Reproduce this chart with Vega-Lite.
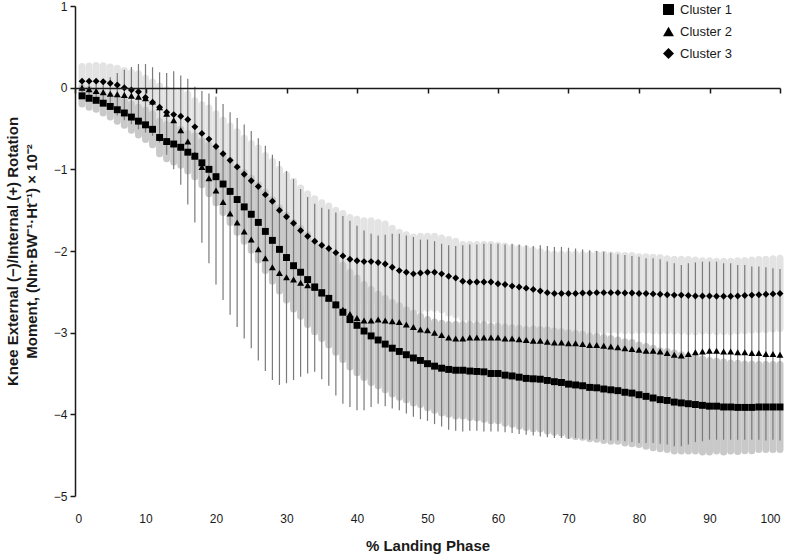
{
"$schema":"https://vega.github.io/schema/vega-lite/v6.json",
"autosize":{"type":"none"},
"width":705,"height":490,
"padding":{"left":75,"top":6,"right":10,"bottom":60},
"background":"white",
"config":{"view":{"stroke":null},"font":"Liberation Sans","axis":{"grid":false}},
"datasets":{"d":[
{"x":1,"c":"Cluster 1","m":-0.10,"s":0.10},{"x":2,"c":"Cluster 1","m":-0.13,"s":0.11},{"x":3,"c":"Cluster 1","m":-0.155,"s":0.11},{"x":4,"c":"Cluster 1","m":-0.19,"s":0.12},{"x":5,"c":"Cluster 1","m":-0.23,"s":0.13},{"x":6,"c":"Cluster 1","m":-0.27,"s":0.14},{"x":7,"c":"Cluster 1","m":-0.31,"s":0.15},{"x":8,"c":"Cluster 1","m":-0.36,"s":0.16},{"x":9,"c":"Cluster 1","m":-0.41,"s":0.17},{"x":10,"c":"Cluster 1","m":-0.455,"s":0.18},
{"x":11,"c":"Cluster 1","m":-0.51,"s":0.19},{"x":12,"c":"Cluster 1","m":-0.61,"s":0.20},{"x":13,"c":"Cluster 1","m":-0.66,"s":0.21},{"x":14,"c":"Cluster 1","m":-0.69,"s":0.22},{"x":15,"c":"Cluster 1","m":-0.73,"s":0.22},{"x":16,"c":"Cluster 1","m":-0.79,"s":0.23},{"x":17,"c":"Cluster 1","m":-0.84,"s":0.25},{"x":18,"c":"Cluster 1","m":-0.92,"s":0.27},{"x":19,"c":"Cluster 1","m":-1.00,"s":0.30},{"x":20,"c":"Cluster 1","m":-1.09,"s":0.32},
{"x":21,"c":"Cluster 1","m":-1.18,"s":0.35},{"x":22,"c":"Cluster 1","m":-1.27,"s":0.38},{"x":23,"c":"Cluster 1","m":-1.37,"s":0.40},{"x":24,"c":"Cluster 1","m":-1.46,"s":0.42},{"x":25,"c":"Cluster 1","m":-1.55,"s":0.44},{"x":26,"c":"Cluster 1","m":-1.65,"s":0.46},{"x":27,"c":"Cluster 1","m":-1.76,"s":0.48},{"x":28,"c":"Cluster 1","m":-1.87,"s":0.50},{"x":29,"c":"Cluster 1","m":-1.98,"s":0.51},{"x":30,"c":"Cluster 1","m":-2.08,"s":0.52},
{"x":31,"c":"Cluster 1","m":-2.18,"s":0.53},{"x":32,"c":"Cluster 1","m":-2.26,"s":0.54},{"x":33,"c":"Cluster 1","m":-2.35,"s":0.55},{"x":34,"c":"Cluster 1","m":-2.44,"s":0.55},{"x":35,"c":"Cluster 1","m":-2.51,"s":0.56},{"x":36,"c":"Cluster 1","m":-2.58,"s":0.57},{"x":37,"c":"Cluster 1","m":-2.66,"s":0.58},{"x":38,"c":"Cluster 1","m":-2.75,"s":0.58},{"x":39,"c":"Cluster 1","m":-2.84,"s":0.58},{"x":40,"c":"Cluster 1","m":-2.91,"s":0.58},
{"x":41,"c":"Cluster 1","m":-2.98,"s":0.57},{"x":42,"c":"Cluster 1","m":-3.04,"s":0.57},{"x":43,"c":"Cluster 1","m":-3.09,"s":0.56},{"x":44,"c":"Cluster 1","m":-3.14,"s":0.56},{"x":45,"c":"Cluster 1","m":-3.19,"s":0.56},{"x":46,"c":"Cluster 1","m":-3.23,"s":0.56},{"x":47,"c":"Cluster 1","m":-3.27,"s":0.55},{"x":48,"c":"Cluster 1","m":-3.31,"s":0.55},{"x":49,"c":"Cluster 1","m":-3.34,"s":0.54},{"x":50,"c":"Cluster 1","m":-3.38,"s":0.54},
{"x":51,"c":"Cluster 1","m":-3.41,"s":0.54},{"x":52,"c":"Cluster 1","m":-3.435,"s":0.55},{"x":53,"c":"Cluster 1","m":-3.45,"s":0.55},{"x":54,"c":"Cluster 1","m":-3.46,"s":0.56},{"x":55,"c":"Cluster 1","m":-3.46,"s":0.56},{"x":56,"c":"Cluster 1","m":-3.47,"s":0.57},{"x":57,"c":"Cluster 1","m":-3.475,"s":0.57},{"x":58,"c":"Cluster 1","m":-3.48,"s":0.58},{"x":59,"c":"Cluster 1","m":-3.50,"s":0.58},{"x":60,"c":"Cluster 1","m":-3.50,"s":0.58},
{"x":61,"c":"Cluster 1","m":-3.52,"s":0.59},{"x":62,"c":"Cluster 1","m":-3.53,"s":0.59},{"x":63,"c":"Cluster 1","m":-3.545,"s":0.60},{"x":64,"c":"Cluster 1","m":-3.56,"s":0.60},{"x":65,"c":"Cluster 1","m":-3.565,"s":0.61},{"x":66,"c":"Cluster 1","m":-3.57,"s":0.61},{"x":67,"c":"Cluster 1","m":-3.585,"s":0.62},{"x":68,"c":"Cluster 1","m":-3.60,"s":0.62},{"x":69,"c":"Cluster 1","m":-3.61,"s":0.62},{"x":70,"c":"Cluster 1","m":-3.63,"s":0.63},
{"x":71,"c":"Cluster 1","m":-3.64,"s":0.63},{"x":72,"c":"Cluster 1","m":-3.65,"s":0.63},{"x":73,"c":"Cluster 1","m":-3.67,"s":0.63},{"x":74,"c":"Cluster 1","m":-3.675,"s":0.63},{"x":75,"c":"Cluster 1","m":-3.69,"s":0.63},{"x":76,"c":"Cluster 1","m":-3.70,"s":0.63},{"x":77,"c":"Cluster 1","m":-3.71,"s":0.62},{"x":78,"c":"Cluster 1","m":-3.73,"s":0.62},{"x":79,"c":"Cluster 1","m":-3.74,"s":0.62},{"x":80,"c":"Cluster 1","m":-3.76,"s":0.61},
{"x":81,"c":"Cluster 1","m":-3.78,"s":0.61},{"x":82,"c":"Cluster 1","m":-3.80,"s":0.61},{"x":83,"c":"Cluster 1","m":-3.82,"s":0.60},{"x":84,"c":"Cluster 1","m":-3.83,"s":0.60},{"x":85,"c":"Cluster 1","m":-3.85,"s":0.60},{"x":86,"c":"Cluster 1","m":-3.86,"s":0.59},{"x":87,"c":"Cluster 1","m":-3.87,"s":0.58},{"x":88,"c":"Cluster 1","m":-3.88,"s":0.57},{"x":89,"c":"Cluster 1","m":-3.89,"s":0.57},{"x":90,"c":"Cluster 1","m":-3.90,"s":0.56},
{"x":91,"c":"Cluster 1","m":-3.90,"s":0.55},{"x":92,"c":"Cluster 1","m":-3.91,"s":0.55},{"x":93,"c":"Cluster 1","m":-3.91,"s":0.54},{"x":94,"c":"Cluster 1","m":-3.915,"s":0.54},{"x":95,"c":"Cluster 1","m":-3.915,"s":0.53},{"x":96,"c":"Cluster 1","m":-3.915,"s":0.53},{"x":97,"c":"Cluster 1","m":-3.91,"s":0.52},{"x":98,"c":"Cluster 1","m":-3.91,"s":0.52},{"x":99,"c":"Cluster 1","m":-3.91,"s":0.52},{"x":100,"c":"Cluster 1","m":-3.91,"s":0.52},
{"x":1,"c":"Cluster 2","m":0.0,"s":0.06},{"x":2,"c":"Cluster 2","m":-0.02,"s":0.07},{"x":3,"c":"Cluster 2","m":-0.04,"s":0.09},{"x":4,"c":"Cluster 2","m":-0.057,"s":0.13},{"x":5,"c":"Cluster 2","m":-0.073,"s":0.20},{"x":6,"c":"Cluster 2","m":-0.08,"s":0.26},{"x":7,"c":"Cluster 2","m":-0.09,"s":0.31},{"x":8,"c":"Cluster 2","m":-0.098,"s":0.35},{"x":9,"c":"Cluster 2","m":-0.11,"s":0.40},{"x":10,"c":"Cluster 2","m":-0.13,"s":0.42},
{"x":11,"c":"Cluster 2","m":-0.17,"s":0.42},{"x":12,"c":"Cluster 2","m":-0.24,"s":0.43},{"x":13,"c":"Cluster 2","m":-0.32,"s":0.50},{"x":14,"c":"Cluster 2","m":-0.40,"s":0.60},{"x":15,"c":"Cluster 2","m":-0.52,"s":0.67},{"x":16,"c":"Cluster 2","m":-0.66,"s":0.77},{"x":17,"c":"Cluster 2","m":-0.82,"s":0.83},{"x":18,"c":"Cluster 2","m":-0.97,"s":0.93},{"x":19,"c":"Cluster 2","m":-1.11,"s":1.04},{"x":20,"c":"Cluster 2","m":-1.26,"s":1.15},
{"x":21,"c":"Cluster 2","m":-1.40,"s":1.20},{"x":22,"c":"Cluster 2","m":-1.54,"s":1.24},{"x":23,"c":"Cluster 2","m":-1.65,"s":1.28},{"x":24,"c":"Cluster 2","m":-1.76,"s":1.31},{"x":25,"c":"Cluster 2","m":-1.86,"s":1.33},{"x":26,"c":"Cluster 2","m":-1.98,"s":1.36},{"x":27,"c":"Cluster 2","m":-2.09,"s":1.38},{"x":28,"c":"Cluster 2","m":-2.20,"s":1.38},{"x":29,"c":"Cluster 2","m":-2.27,"s":1.37},{"x":30,"c":"Cluster 2","m":-2.32,"s":1.30},
{"x":31,"c":"Cluster 2","m":-2.35,"s":1.23},{"x":32,"c":"Cluster 2","m":-2.39,"s":1.15},{"x":33,"c":"Cluster 2","m":-2.42,"s":1.08},{"x":34,"c":"Cluster 2","m":-2.45,"s":1.03},{"x":35,"c":"Cluster 2","m":-2.52,"s":1.05},{"x":36,"c":"Cluster 2","m":-2.57,"s":1.08},{"x":37,"c":"Cluster 2","m":-2.65,"s":1.12},{"x":38,"c":"Cluster 2","m":-2.72,"s":1.15},{"x":39,"c":"Cluster 2","m":-2.77,"s":1.14},{"x":40,"c":"Cluster 2","m":-2.82,"s":1.13},
{"x":41,"c":"Cluster 2","m":-2.85,"s":1.10},{"x":42,"c":"Cluster 2","m":-2.85,"s":1.06},{"x":43,"c":"Cluster 2","m":-2.84,"s":1.03},{"x":44,"c":"Cluster 2","m":-2.85,"s":1.05},{"x":45,"c":"Cluster 2","m":-2.86,"s":1.07},{"x":46,"c":"Cluster 2","m":-2.87,"s":1.08},{"x":47,"c":"Cluster 2","m":-2.90,"s":1.09},{"x":48,"c":"Cluster 2","m":-2.93,"s":1.10},{"x":49,"c":"Cluster 2","m":-2.96,"s":1.10},{"x":50,"c":"Cluster 2","m":-2.97,"s":1.11},
{"x":51,"c":"Cluster 2","m":-3.00,"s":1.12},{"x":52,"c":"Cluster 2","m":-3.03,"s":1.12},{"x":53,"c":"Cluster 2","m":-3.06,"s":1.13},{"x":54,"c":"Cluster 2","m":-3.07,"s":1.13},{"x":55,"c":"Cluster 2","m":-3.07,"s":1.14},{"x":56,"c":"Cluster 2","m":-3.06,"s":1.14},{"x":57,"c":"Cluster 2","m":-3.06,"s":1.14},{"x":58,"c":"Cluster 2","m":-3.06,"s":1.15},{"x":59,"c":"Cluster 2","m":-3.06,"s":1.15},{"x":60,"c":"Cluster 2","m":-3.06,"s":1.15},
{"x":61,"c":"Cluster 2","m":-3.07,"s":1.15},{"x":62,"c":"Cluster 2","m":-3.07,"s":1.16},{"x":63,"c":"Cluster 2","m":-3.08,"s":1.16},{"x":64,"c":"Cluster 2","m":-3.09,"s":1.16},{"x":65,"c":"Cluster 2","m":-3.10,"s":1.16},{"x":66,"c":"Cluster 2","m":-3.10,"s":1.17},{"x":67,"c":"Cluster 2","m":-3.11,"s":1.17},{"x":68,"c":"Cluster 2","m":-3.12,"s":1.17},{"x":69,"c":"Cluster 2","m":-3.12,"s":1.17},{"x":70,"c":"Cluster 2","m":-3.13,"s":1.17},
{"x":71,"c":"Cluster 2","m":-3.13,"s":1.16},{"x":72,"c":"Cluster 2","m":-3.14,"s":1.16},{"x":73,"c":"Cluster 2","m":-3.15,"s":1.16},{"x":74,"c":"Cluster 2","m":-3.15,"s":1.15},{"x":75,"c":"Cluster 2","m":-3.16,"s":1.15},{"x":76,"c":"Cluster 2","m":-3.17,"s":1.15},{"x":77,"c":"Cluster 2","m":-3.18,"s":1.14},{"x":78,"c":"Cluster 2","m":-3.19,"s":1.14},{"x":79,"c":"Cluster 2","m":-3.20,"s":1.14},{"x":80,"c":"Cluster 2","m":-3.21,"s":1.14},
{"x":81,"c":"Cluster 2","m":-3.22,"s":1.13},{"x":82,"c":"Cluster 2","m":-3.22,"s":1.13},{"x":83,"c":"Cluster 2","m":-3.23,"s":1.13},{"x":84,"c":"Cluster 2","m":-3.25,"s":1.12},{"x":85,"c":"Cluster 2","m":-3.27,"s":1.12},{"x":86,"c":"Cluster 2","m":-3.28,"s":1.11},{"x":87,"c":"Cluster 2","m":-3.26,"s":1.11},{"x":88,"c":"Cluster 2","m":-3.24,"s":1.10},{"x":89,"c":"Cluster 2","m":-3.23,"s":1.10},{"x":90,"c":"Cluster 2","m":-3.22,"s":1.09},
{"x":91,"c":"Cluster 2","m":-3.22,"s":1.09},{"x":92,"c":"Cluster 2","m":-3.23,"s":1.08},{"x":93,"c":"Cluster 2","m":-3.23,"s":1.08},{"x":94,"c":"Cluster 2","m":-3.24,"s":1.07},{"x":95,"c":"Cluster 2","m":-3.24,"s":1.07},{"x":96,"c":"Cluster 2","m":-3.25,"s":1.06},{"x":97,"c":"Cluster 2","m":-3.25,"s":1.06},{"x":98,"c":"Cluster 2","m":-3.26,"s":1.06},{"x":99,"c":"Cluster 2","m":-3.26,"s":1.05},{"x":100,"c":"Cluster 2","m":-3.27,"s":1.05},
{"x":1,"c":"Cluster 3","m":0.08,"s":0.18},{"x":2,"c":"Cluster 3","m":0.08,"s":0.185},{"x":3,"c":"Cluster 3","m":0.08,"s":0.19},{"x":4,"c":"Cluster 3","m":0.073,"s":0.195},{"x":5,"c":"Cluster 3","m":0.053,"s":0.20},{"x":6,"c":"Cluster 3","m":0.033,"s":0.205},{"x":7,"c":"Cluster 3","m":0.0,"s":0.21},{"x":8,"c":"Cluster 3","m":-0.028,"s":0.215},{"x":9,"c":"Cluster 3","m":-0.049,"s":0.22},{"x":10,"c":"Cluster 3","m":-0.12,"s":0.235},
{"x":11,"c":"Cluster 3","m":-0.18,"s":0.25},{"x":12,"c":"Cluster 3","m":-0.24,"s":0.26},{"x":13,"c":"Cluster 3","m":-0.30,"s":0.275},{"x":14,"c":"Cluster 3","m":-0.33,"s":0.29},{"x":15,"c":"Cluster 3","m":-0.35,"s":0.30},{"x":16,"c":"Cluster 3","m":-0.39,"s":0.31},{"x":17,"c":"Cluster 3","m":-0.48,"s":0.32},{"x":18,"c":"Cluster 3","m":-0.56,"s":0.35},{"x":19,"c":"Cluster 3","m":-0.63,"s":0.38},{"x":20,"c":"Cluster 3","m":-0.72,"s":0.40},
{"x":21,"c":"Cluster 3","m":-0.81,"s":0.41},{"x":22,"c":"Cluster 3","m":-0.89,"s":0.42},{"x":23,"c":"Cluster 3","m":-0.97,"s":0.43},{"x":24,"c":"Cluster 3","m":-1.06,"s":0.44},{"x":25,"c":"Cluster 3","m":-1.14,"s":0.455},{"x":26,"c":"Cluster 3","m":-1.21,"s":0.47},{"x":27,"c":"Cluster 3","m":-1.31,"s":0.48},{"x":28,"c":"Cluster 3","m":-1.39,"s":0.49},{"x":29,"c":"Cluster 3","m":-1.50,"s":0.50},{"x":30,"c":"Cluster 3","m":-1.58,"s":0.51},
{"x":31,"c":"Cluster 3","m":-1.66,"s":0.515},{"x":32,"c":"Cluster 3","m":-1.75,"s":0.52},{"x":33,"c":"Cluster 3","m":-1.82,"s":0.52},{"x":34,"c":"Cluster 3","m":-1.88,"s":0.52},{"x":35,"c":"Cluster 3","m":-1.93,"s":0.52},{"x":36,"c":"Cluster 3","m":-1.97,"s":0.52},{"x":37,"c":"Cluster 3","m":-2.02,"s":0.52},{"x":38,"c":"Cluster 3","m":-2.06,"s":0.52},{"x":39,"c":"Cluster 3","m":-2.10,"s":0.51},{"x":40,"c":"Cluster 3","m":-2.12,"s":0.51},
{"x":41,"c":"Cluster 3","m":-2.13,"s":0.50},{"x":42,"c":"Cluster 3","m":-2.13,"s":0.50},{"x":43,"c":"Cluster 3","m":-2.14,"s":0.49},{"x":44,"c":"Cluster 3","m":-2.16,"s":0.49},{"x":45,"c":"Cluster 3","m":-2.20,"s":0.48},{"x":46,"c":"Cluster 3","m":-2.24,"s":0.47},{"x":47,"c":"Cluster 3","m":-2.26,"s":0.46},{"x":48,"c":"Cluster 3","m":-2.28,"s":0.45},{"x":49,"c":"Cluster 3","m":-2.27,"s":0.45},{"x":50,"c":"Cluster 3","m":-2.26,"s":0.44},
{"x":51,"c":"Cluster 3","m":-2.26,"s":0.44},{"x":52,"c":"Cluster 3","m":-2.28,"s":0.44},{"x":53,"c":"Cluster 3","m":-2.31,"s":0.45},{"x":54,"c":"Cluster 3","m":-2.33,"s":0.45},{"x":55,"c":"Cluster 3","m":-2.37,"s":0.45},{"x":56,"c":"Cluster 3","m":-2.38,"s":0.46},{"x":57,"c":"Cluster 3","m":-2.38,"s":0.46},{"x":58,"c":"Cluster 3","m":-2.38,"s":0.46},{"x":59,"c":"Cluster 3","m":-2.38,"s":0.46},{"x":60,"c":"Cluster 3","m":-2.40,"s":0.47},
{"x":61,"c":"Cluster 3","m":-2.41,"s":0.47},{"x":62,"c":"Cluster 3","m":-2.43,"s":0.47},{"x":63,"c":"Cluster 3","m":-2.44,"s":0.47},{"x":64,"c":"Cluster 3","m":-2.455,"s":0.48},{"x":65,"c":"Cluster 3","m":-2.47,"s":0.48},{"x":66,"c":"Cluster 3","m":-2.49,"s":0.48},{"x":67,"c":"Cluster 3","m":-2.51,"s":0.48},{"x":68,"c":"Cluster 3","m":-2.52,"s":0.48},{"x":69,"c":"Cluster 3","m":-2.52,"s":0.48},{"x":70,"c":"Cluster 3","m":-2.52,"s":0.48},
{"x":71,"c":"Cluster 3","m":-2.52,"s":0.48},{"x":72,"c":"Cluster 3","m":-2.515,"s":0.47},{"x":73,"c":"Cluster 3","m":-2.515,"s":0.47},{"x":74,"c":"Cluster 3","m":-2.51,"s":0.47},{"x":75,"c":"Cluster 3","m":-2.51,"s":0.47},{"x":76,"c":"Cluster 3","m":-2.51,"s":0.46},{"x":77,"c":"Cluster 3","m":-2.51,"s":0.46},{"x":78,"c":"Cluster 3","m":-2.515,"s":0.46},{"x":79,"c":"Cluster 3","m":-2.515,"s":0.46},{"x":80,"c":"Cluster 3","m":-2.52,"s":0.45},
{"x":81,"c":"Cluster 3","m":-2.52,"s":0.45},{"x":82,"c":"Cluster 3","m":-2.525,"s":0.45},{"x":83,"c":"Cluster 3","m":-2.53,"s":0.45},{"x":84,"c":"Cluster 3","m":-2.535,"s":0.44},{"x":85,"c":"Cluster 3","m":-2.54,"s":0.44},{"x":86,"c":"Cluster 3","m":-2.54,"s":0.44},{"x":87,"c":"Cluster 3","m":-2.545,"s":0.44},{"x":88,"c":"Cluster 3","m":-2.55,"s":0.44},{"x":89,"c":"Cluster 3","m":-2.55,"s":0.43},{"x":90,"c":"Cluster 3","m":-2.55,"s":0.43},
{"x":91,"c":"Cluster 3","m":-2.555,"s":0.43},{"x":92,"c":"Cluster 3","m":-2.555,"s":0.43},{"x":93,"c":"Cluster 3","m":-2.555,"s":0.43},{"x":94,"c":"Cluster 3","m":-2.55,"s":0.43},{"x":95,"c":"Cluster 3","m":-2.545,"s":0.43},{"x":96,"c":"Cluster 3","m":-2.54,"s":0.43},{"x":97,"c":"Cluster 3","m":-2.535,"s":0.43},{"x":98,"c":"Cluster 3","m":-2.53,"s":0.43},{"x":99,"c":"Cluster 3","m":-2.525,"s":0.43},{"x":100,"c":"Cluster 3","m":-2.52,"s":0.43}
]},
"data":{"name":"d"},
"encoding":{
 "x":{"field":"x","type":"quantitative","scale":{"domain":[0,100],"nice":false},
  "axis":{"values":[0,10,20,30,40,50,60,70,80,90,100],"offset":-408,"tickSize":5,"tickWidth":1.5,"tickColor":"#1a1a1a","domainColor":"#1a1a1a","domainWidth":1.5,"labelPadding":420,"labelFontSize":12,"labelColor":"#1a1a1a","title":"% Landing Phase","titleFontSize":15,"titleFontWeight":"bold","titleColor":"#1a1a1a","titleY":457,"titleBaseline":"middle","zindex":1}},
 "y":{"field":"m","type":"quantitative","scale":{"domain":[-5,1],"nice":false,"zero":false},
  "axis":{"values":[-5,-4,-3,-2,-1,0,1],"tickSize":5,"tickWidth":1.5,"tickColor":"#1a1a1a","domainColor":"#1a1a1a","domainWidth":1.5,"labelPadding":3,"labelFontSize":12,"labelColor":"#1a1a1a","title":["Knee External (−)/Internal (+) Rotation","Moment, (Nm·BW⁻¹·Ht⁻¹) × 10⁻²"],"titleFontSize":15,"titleFontWeight":"bold","titleColor":"#1a1a1a","titleLineHeight":19,"titlePadding":14}}
},
"layer":[
 {"transform":[{"filter":"datum.c === 'Cluster 3'"}],
  "mark":{"type":"errorbar","color":"#e3e3e3","thickness":7,"rule":{"strokeCap":"round"}},
  "encoding":{"yError":{"field":"s"}}},
 {"transform":[{"filter":"datum.c === 'Cluster 1'"}],
  "mark":{"type":"errorbar","color":"#c9c9c9","thickness":7,"rule":{"strokeCap":"round"}},
  "encoding":{"yError":{"field":"s"}}},
 {"transform":[{"filter":"datum.c === 'Cluster 2'"}],
  "mark":{"type":"errorbar","color":"#7a7a7a","thickness":1.2},
  "encoding":{"yError":{"field":"s"}}},
 {"mark":{"type":"point","filled":true,"opacity":1,"color":"black","size":48},
  "encoding":{"shape":{"field":"c","type":"nominal","scale":{"domain":["Cluster 1","Cluster 2","Cluster 3"],"range":["square","triangle-up","diamond"]},
   "legend":{"title":null,"orient":"none","legendX":587,"legendY":-3,"symbolSize":120,"symbolFillColor":"black","symbolStrokeColor":"black","symbolStrokeWidth":0,"labelFontSize":13,"labelColor":"#1a1a1a","labelOffset":5,"rowPadding":8}}}}
]
}
